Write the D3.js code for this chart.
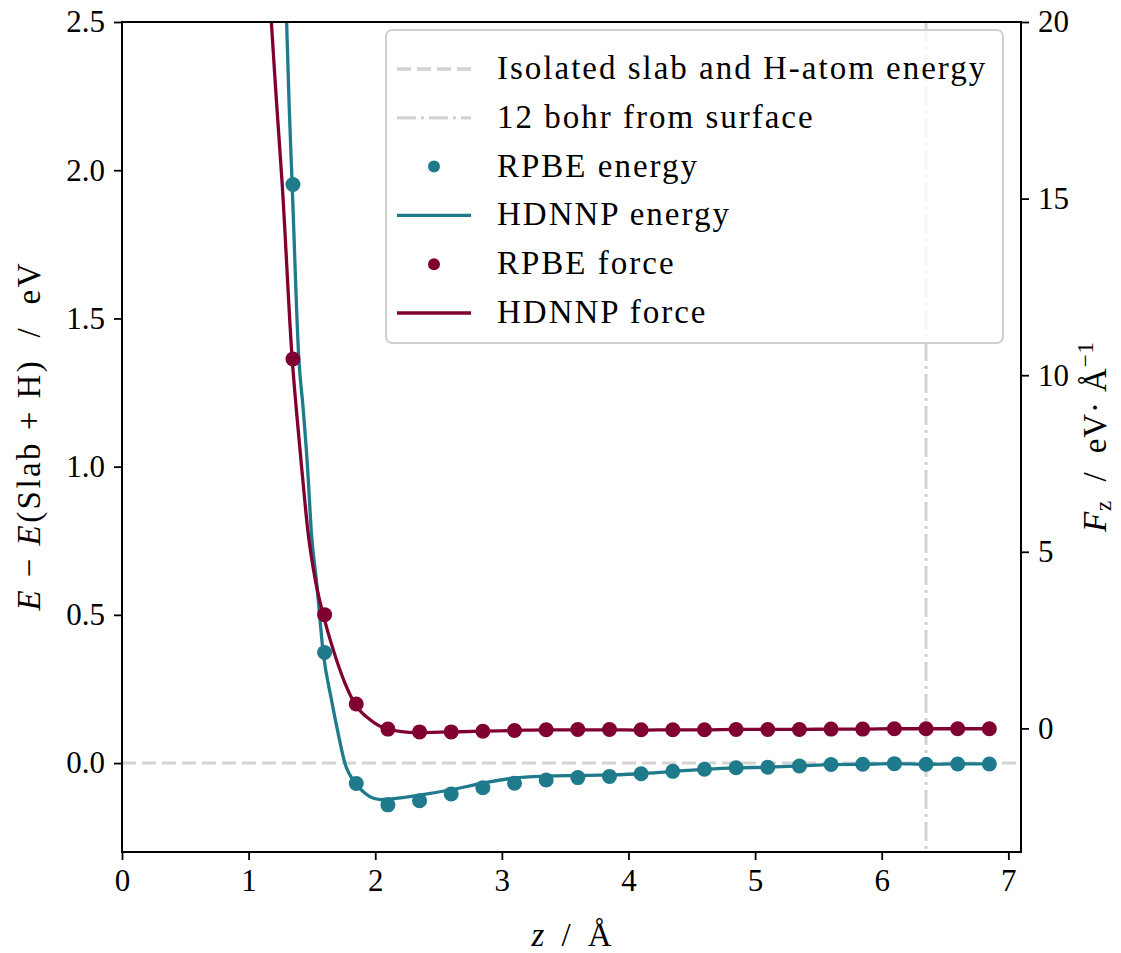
<!DOCTYPE html>
<html>
<head>
<meta charset="utf-8">
<script src="https://cdn.jsdelivr.net/npm/d3@7"></script>
<style>
  html, body { margin: 0; padding: 0; background: #fff; }
  svg text { font-family: "Liberation Serif", "Times New Roman", serif !important; fill: #000; }
</style>
</head>
<body>
<svg id="chart" width="1121" height="953"></svg>
<script>
// z positions of the RPBE reference points (Å)
const zPoints = [1.35, 1.6, 1.85, 2.1, 2.35, 2.6, 2.85, 3.1, 3.35, 3.6, 3.85, 4.1,
                 4.35, 4.6, 4.85, 5.1, 5.35, 5.6, 5.85, 6.1, 6.35, 6.6, 6.85];
const rpbeEnergy = [1.952, 0.373, -0.069, -0.141, -0.127, -0.104, -0.083, -0.068, -0.057, -0.049, -0.045, -0.036,
                    -0.028, -0.021, -0.016, -0.014, -0.010, -0.005, -0.004, -0.002, -0.004, -0.003, -0.003];
const rpbeForce = [10.46, 3.22, 0.69, -0.02, -0.10, -0.10, -0.08, -0.06, -0.04, -0.03, -0.03, -0.04,
                   -0.04, -0.04, -0.03, -0.03, -0.03, -0.02, -0.02, -0.01, -0.01, -0.01, -0.01];

// HDNNP curves
const zHdnnpEnergy = [1.29, 1.30, 1.32, 1.344, 1.397, 1.43, 1.465, 1.497, 1.537, 1.589, 1.655, 1.707, 1.76, 1.85,
                      1.957, 2.04, 2.1, 2.35, 2.6, 2.85, 3.1, 3.35, 3.6, 3.85, 4.1, 4.35, 4.6, 4.85, 5.1,
                      5.35, 5.6, 5.85, 6.1, 6.35, 6.6, 6.85];
const hdnnpEnergy = [2.66, 2.50, 2.22, 1.95, 1.36, 1.20, 1.00, 0.77, 0.61, 0.373, 0.212, 0.100, 0.0, -0.07,
                     -0.113, -0.123, -0.122, -0.108, -0.090, -0.068, -0.050, -0.044, -0.042, -0.040, -0.036,
                     -0.028, -0.021, -0.016, -0.014, -0.010, -0.005, -0.004, -0.002, -0.004, -0.003, -0.003];
const zHdnnpForce = [1.17, 1.18, 1.221, 1.265, 1.344, 1.384, 1.418, 1.47, 1.531, 1.589, 1.668, 1.76, 1.842,
                     1.957, 2.09, 2.325, 2.6, 2.85, 3.1, 3.35, 3.6, 3.85, 4.1, 4.35, 4.6, 4.85, 5.1, 5.35,
                     5.6, 5.85, 6.1, 6.35, 6.6, 6.85];
const hdnnpForce = [20.6, 19.97, 17.7, 15.42, 10.46, 8.74, 7.42, 5.53, 4.12, 3.22, 2.23, 1.29, 0.68,
                    0.25, -0.01, -0.12, -0.10, -0.08, -0.06, -0.04, -0.04, -0.04, -0.05, -0.04, -0.04, -0.03,
                    -0.03, -0.03, -0.02, -0.02, -0.01, -0.01, -0.01, -0.01];

const xTicks = [0, 1, 2, 3, 4, 5, 6, 7];
const yTicksE = [0.0, 0.5, 1.0, 1.5, 2.0, 2.5];
const yTicksF = [0, 5, 10, 15, 20];
const surfaceLimit = 6.35; // 12 bohr
const legendItems = [
  {label: "Isolated slab and H-atom energy", kind: "dash"},
  {label: "12 bohr from surface", kind: "dashdot"},
  {label: "RPBE energy", kind: "dot", color: "#1f7a8c"},
  {label: "HDNNP energy", kind: "line", color: "#1f7a8c"},
  {label: "RPBE force", kind: "dot", color: "#800032"},
  {label: "HDNNP force", kind: "line", color: "#800032"}
];

const teal = "#1f7a8c", wine = "#800032", grey = "#d3d3d3";
const pl = 122, pr = 1021, pt = 22, pb = 852;

const svg = d3.select("#chart");
const x = d3.scaleLinear().domain([0, 7.1]).range([pl, pr]);
const yE = d3.scaleLinear().domain([-0.3, 2.5]).range([pb, pt]);
const yF = d3.scaleLinear().domain([-3.5, 20]).range([pb, pt]);

svg.append("defs").append("clipPath").attr("id", "plot")
  .append("rect").attr("x", pl).attr("y", pt).attr("width", pr - pl).attr("height", pb - pt);

const plot = svg.append("g").attr("clip-path", "url(#plot)");

// reference lines
plot.append("line")
  .attr("x1", pl).attr("x2", pr).attr("y1", yE(0)).attr("y2", yE(0))
  .attr("stroke", grey).attr("stroke-width", 3).attr("stroke-dasharray", "14,6");
plot.append("line")
  .attr("x1", x(surfaceLimit)).attr("x2", x(surfaceLimit)).attr("y1", pt).attr("y2", pb)
  .attr("stroke", grey).attr("stroke-width", 3).attr("stroke-dasharray", "19,5,3,5");

const energyLine = d3.line().x((d, i) => x(zHdnnpEnergy[i])).y(d => yE(d)).curve(d3.curveMonotoneX);
const forceLine = d3.line().x((d, i) => x(zHdnnpForce[i])).y(d => yF(d)).curve(d3.curveMonotoneX);

plot.append("path").datum(hdnnpEnergy).attr("d", energyLine)
  .attr("fill", "none").attr("stroke", teal).attr("stroke-width", 3.3);
plot.selectAll(".eDot").data(rpbeEnergy).enter().append("circle")
  .attr("class", "eDot")
  .attr("cx", (d, i) => x(zPoints[i])).attr("cy", d => yE(d)).attr("r", 7.5).attr("fill", teal);

plot.append("path").datum(hdnnpForce).attr("d", forceLine)
  .attr("fill", "none").attr("stroke", wine).attr("stroke-width", 3.3);
plot.selectAll(".fDot").data(rpbeForce).enter().append("circle")
  .attr("class", "fDot")
  .attr("cx", (d, i) => x(zPoints[i])).attr("cy", d => yF(d)).attr("r", 7.5).attr("fill", wine);

// axes
const fmt1 = d3.format(".1f");
const styleAxis = g => {
  g.select(".domain").remove();
  g.selectAll(".tick line").attr("stroke", "#000").attr("stroke-width", 1.8);
  g.selectAll(".tick text").attr("font-size", 31);
};
svg.append("g").attr("transform", `translate(0,${pb})`)
  .call(d3.axisBottom(x).tickValues(xTicks).tickFormat(d3.format("d")).tickSize(8).tickPadding(9))
  .call(styleAxis);
svg.append("g").attr("transform", `translate(${pl},0)`)
  .call(d3.axisLeft(yE).tickValues(yTicksE).tickFormat(fmt1).tickSize(8).tickPadding(9))
  .call(styleAxis);
svg.append("g").attr("transform", `translate(${pr},0)`)
  .call(d3.axisRight(yF).tickValues(yTicksF).tickFormat(d3.format("d")).tickSize(8).tickPadding(9))
  .call(styleAxis);

svg.append("rect").attr("x", pl).attr("y", pt).attr("width", pr - pl).attr("height", pb - pt)
  .attr("fill", "none").attr("stroke", "#000").attr("stroke-width", 2);

// legend
const lg = svg.append("g");
lg.append("rect").attr("x", 386).attr("y", 30).attr("width", 617).attr("height", 313)
  .attr("rx", 6).attr("fill", "#fff").attr("fill-opacity", 0.8)
  .attr("stroke", "#d0d0d0").attr("stroke-width", 2);
legendItems.forEach((it, i) => {
  const cy = 69 + i * 48.8;
  if (it.kind === "dot") {
    lg.append("circle").attr("cx", 434).attr("cy", cy).attr("r", 6).attr("fill", it.color);
  } else {
    lg.append("line").attr("x1", 397).attr("x2", 471).attr("y1", cy).attr("y2", cy)
      .attr("stroke", it.color || grey).attr("stroke-width", 3.3)
      .attr("stroke-dasharray", it.kind === "dash" ? "14,6" : it.kind === "dashdot" ? "19,5,3,5" : null);
  }
  lg.append("text").attr("x", 497).attr("y", cy + 10).attr("font-size", 33)
    .attr("letter-spacing", 2).text(it.label);
});

// axis labels
const xl = svg.append("text").attr("x", (pl + pr) / 2).attr("y", 946)
  .attr("text-anchor", "middle").attr("font-size", 33)
  .attr("textLength", 80).attr("lengthAdjust", "spacing");
xl.append("tspan").attr("font-style", "italic").text("z");
xl.append("tspan").text("\u00a0/\u00a0Å");

const yl = svg.append("text").attr("transform", `translate(40,${(pt + pb) / 2}) rotate(-90)`)
  .attr("text-anchor", "middle").attr("font-size", 33)
  .attr("textLength", 347).attr("lengthAdjust", "spacing");
yl.append("tspan").attr("font-style", "italic").text("E");
yl.append("tspan").text(" − ");
yl.append("tspan").attr("font-style", "italic").text("E");
yl.append("tspan").text("(Slab + H)\u00a0 /\u00a0 eV");

const yr = svg.append("text").attr("transform", `translate(1106,${(pt + pb) / 2}) rotate(-90)`)
  .attr("text-anchor", "middle").attr("font-size", 33)
  .attr("textLength", 190).attr("lengthAdjust", "spacing");
yr.append("tspan").attr("font-style", "italic").text("F");
yr.append("tspan").attr("font-size", 23).attr("dy", 5).text("z");
yr.append("tspan").attr("dy", -5).text("\u00a0 /\u00a0 eV· Å");
yr.append("tspan").attr("font-size", 23).attr("dy", -13).text("−1");
</script>
</body>
</html>
